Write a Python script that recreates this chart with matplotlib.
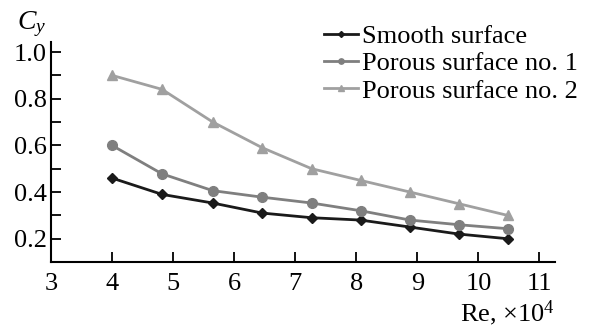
import matplotlib
matplotlib.use("Agg")
import matplotlib.pyplot as plt
import numpy as np

plt.rcParams['font.family'] = ['Liberation Serif', 'DejaVu Serif']
plt.rcParams['mathtext.fontset'] = 'custom'
plt.rcParams['mathtext.it'] = 'Liberation Serif:italic'
plt.rcParams['mathtext.rm'] = 'Liberation Serif'

# Re, x10^4
re = [4.0, 4.82, 5.65, 6.46, 7.27, 8.07, 8.88, 9.68, 10.48]
smooth = [0.46, 0.39, 0.353, 0.31, 0.29, 0.28, 0.25, 0.22, 0.20]
porous1 = [0.60, 0.478, 0.406, 0.378, 0.353, 0.32, 0.28, 0.26, 0.243]
porous2 = [0.90, 0.84, 0.70, 0.59, 0.50, 0.45, 0.40, 0.35, 0.30]

labels = ["Smooth surface", "Porous surface no. 1", "Porous surface no. 2"]

fig = plt.figure(figsize=(5.92, 3.28), dpi=100)
ax = fig.add_axes([0.086, 0.201, 0.851, 0.671])

ax.plot(re, smooth, color='#1a1a1a', lw=2, marker='D', ms=5.5, label=labels[0])
ax.plot(re, porous1, color='#7f7f7f', lw=2, marker='o', ms=7, label=labels[1])
ax.plot(re, porous2, color='#a0a0a0', lw=2, marker='^', ms=7, label=labels[2])

ax.set_xlim(3, 11.25)
ax.set_ylim(0.1, 1.043)
ax.set_xticks(range(3, 12))
yt = np.round(np.arange(0.2, 1.01, 0.1), 1)
ax.set_yticks(yt)
ax.set_yticklabels([f"{v:.1f}" if round(v * 10) % 2 == 0 else "" for v in yt])
ax.tick_params(direction='in', length=7, width=1.3, labelsize=19)
ax.tick_params(axis='x', pad=8)
ax.tick_params(axis='y', pad=3)
for s in ['top', 'right']:
    ax.spines[s].set_visible(False)
for s in ['left', 'bottom']:
    ax.spines[s].set_linewidth(1.5)

fig.text(0.028, 0.925, r'$C_y$', fontsize=20, ha='left', va='center')
fig.text(0.937, 0.045, r'Re, $\times$10$^4$', fontsize=19, ha='right', va='center')

leg = ax.legend(loc='upper right', bbox_to_anchor=(1.078, 1.15), frameon=False,
                fontsize=19, handlelength=1.3, handletextpad=0.15,
                labelspacing=0.14, borderpad=0.1, markerscale=0.55)

fig.savefig("out.png", dpi=100)
